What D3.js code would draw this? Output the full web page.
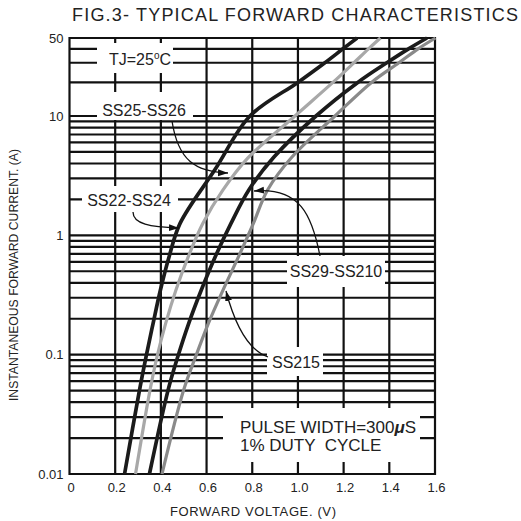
<!DOCTYPE html>
<html>
<head>
<meta charset="utf-8">
<script src="https://cdn.jsdelivr.net/npm/d3@7"></script>
<style>
  body { margin: 0; background: #fff; }
  svg text { font-family: "Liberation Sans", Arial, sans-serif; fill: #222; }
</style>
</head>
<body>
<div class="chart"></div>
<script>
var svgWidth = 521;
var svgHeight = 521;

// forward voltage (V) and current (A)
var ss22V = [0.241, 0.306, 0.335, 0.366, 0.398, 0.436, 0.484, 0.637, 0.790, 1.000, 1.118, 1.197, 1.259];
var ss22I = [0.01, 0.05, 0.096, 0.183, 0.348, 0.662, 1.26, 3.56, 10, 20, 30, 40, 50];

var ss25V = [0.289, 0.352, 0.383, 0.421, 0.466, 0.520, 0.584, 0.672, 0.781, 0.987, 1.153, 1.245, 1.309, 1.361];
var ss25I = [0.01, 0.05, 0.096, 0.183, 0.348, 0.662, 1.26, 2.40, 4.45, 10, 20, 30, 40, 50];

var ss29V = [0.350, 0.431, 0.474, 0.522, 0.577, 0.638, 0.707, 0.785, 0.895, 1.079, 1.262, 1.389, 1.484, 1.565];
var ss29I = [0.01, 0.05, 0.096, 0.183, 0.348, 0.662, 1.26, 2.40, 4.53, 10, 20, 30, 40, 50];

var ss215V = [0.405, 0.499, 0.552, 0.608, 0.672, 0.740, 0.805, 0.867, 0.974, 1.162, 1.322, 1.442, 1.526, 1.602];
var ss215I = [0.01, 0.05, 0.096, 0.183, 0.348, 0.662, 1.26, 2.40, 4.53, 10, 20, 30, 40, 50];

var xTickValues = [0, 0.2, 0.4, 0.6, 0.8, 1.0, 1.2, 1.4, 1.6];
var xTickLabels = ["0", "0.2", "0.4", "0.6", "0.8", "1.0", "1.2", "1.4", "1.6"];
var yTickValues = [0.01, 0.1, 1, 10, 50];
var yTickLabels = ["0.01", "0.1", "1", "10", "50"];

var series = [
  { v: ss22V, i: ss22I, color: "#1b1b1b", width: 3.7 },
  { v: ss25V, i: ss25I, color: "#a8a8a8", width: 3.2 },
  { v: ss29V, i: ss29I, color: "#1b1b1b", width: 3.7 },
  { v: ss215V, i: ss215I, color: "#8a8a8a", width: 3.2 }
];

var svg = d3.select(".chart")
  .append("svg")
  .attr("width", svgWidth)
  .attr("height", svgHeight);

// scales (the scan's top decade 10..50 is a bit squashed, hence 3 stops)
var x = d3.scaleLinear().domain([0, 1.6]).range([69.5, 435]);
var y = d3.scaleLog().domain([0.01, 10, 50]).range([474, 116, 38]);

// grid
var grid = svg.append("g").attr("stroke", "#111").attr("stroke-width", 2.2);
grid.selectAll("line.h")
  .data(y.ticks())
  .enter().append("line")
  .attr("class", "h")
  .attr("x1", x(0)).attr("x2", x(1.6))
  .attr("y1", d => y(d)).attr("y2", d => y(d));
grid.selectAll("line.v")
  .data(xTickValues)
  .enter().append("line")
  .attr("class", "v")
  .attr("x1", d => x(d)).attr("x2", d => x(d))
  .attr("y1", y(50) - 1.1).attr("y2", y(0.01) + 1.1);

// curves
var line = d3.line()
  .x(d => x(d[0]))
  .y(d => y(d[1]))
  .curve(d3.curveCatmullRom.alpha(0.5));

svg.append("g").selectAll("path")
  .data(series)
  .enter().append("path")
  .attr("d", s => line(s.v.map((v, k) => [v, s.i[k]])))
  .attr("fill", "none")
  .attr("stroke", s => s.color)
  .attr("stroke-width", s => s.width);

// white boxes behind the labels break the grid
var boxes = [
  [97, 43, 76, 30],
  [97, 92, 96, 28],
  [82, 186, 96, 26],
  [287, 256, 98, 31],
  [267, 347, 56, 29],
  [223, 408, 197, 54]
];
svg.append("g").selectAll("rect")
  .data(boxes)
  .enter().append("rect")
  .attr("x", d => d[0]).attr("y", d => d[1])
  .attr("width", d => d[2]).attr("height", d => d[3])
  .attr("fill", "#fff");

// axis labels
svg.append("g").selectAll("text")
  .data(xTickValues)
  .enter().append("text")
  .attr("x", d => x(d) + 1.5)
  .attr("y", 491.5)
  .attr("text-anchor", "middle")
  .attr("font-size", 13)
  .text((d, k) => xTickLabels[k]);

svg.append("g").selectAll("text")
  .data(yTickValues)
  .enter().append("text")
  .attr("x", 63.5)
  .attr("y", d => y(d))
  .attr("dy", "0.36em")
  .attr("text-anchor", "end")
  .attr("font-size", 13)
  .text((d, k) => yTickLabels[k]);

svg.append("text")
  .attr("x", 72).attr("y", 20.5)
  .attr("font-size", 18)
  .attr("textLength", 446)
  .attr("lengthAdjust", "spacing")
  .text("FIG.3- TYPICAL FORWARD CHARACTERISTICS");

svg.append("text")
  .attr("transform", "translate(17.5, 275) rotate(-90)")
  .attr("text-anchor", "middle")
  .attr("font-size", 12.2)
  .text("INSTANTANEOUS FORWARD CURRENT. (A)");

svg.append("text")
  .attr("x", 253).attr("y", 516)
  .attr("text-anchor", "middle")
  .attr("font-size", 13)
  .attr("textLength", 166)
  .attr("lengthAdjust", "spacing")
  .text("FORWARD VOLTAGE. (V)");

// annotations
var tj = svg.append("text")
  .attr("x", 140).attr("y", 65)
  .attr("text-anchor", "middle")
  .attr("font-size", 16);
tj.append("tspan").text("TJ=25");
tj.append("tspan").attr("dy", -6).attr("font-size", 10).text("o");
tj.append("tspan").attr("dy", 6).text("C");

var labels = [
  ["SS25-SS26", 144, 116],
  ["SS22-SS24", 129, 205.5],
  ["SS29-SS210", 336, 277],
  ["SS215", 296, 368]
];
svg.append("g").selectAll("text")
  .data(labels)
  .enter().append("text")
  .attr("x", d => d[1]).attr("y", d => d[2])
  .attr("text-anchor", "middle")
  .attr("font-size", 16)
  .text(d => d[0]);

var p1 = svg.append("text").attr("x", 240).attr("y", 432.5).attr("font-size", 17);
p1.append("tspan").text("PULSE WIDTH=300");
p1.append("tspan").attr("font-style", "italic").attr("font-weight", "bold").text("\u03bc");
p1.append("tspan").text("S");
svg.append("text").attr("x", 240).attr("y", 451).attr("font-size", 17)
  .style("white-space", "pre")
  .text("1% DUTY  CYCLE");

// arrows
svg.append("defs").append("marker")
  .attr("id", "head")
  .attr("markerUnits", "userSpaceOnUse")
  .attr("markerWidth", 11).attr("markerHeight", 8)
  .attr("refX", 10).attr("refY", 3.5)
  .attr("orient", "auto")
  .append("path")
  .attr("d", "M0,0 L10,3.5 L0,7 Z")
  .attr("fill", "#111");

var arrows = [
  "M172,121 C178,160 195,172 228,173",
  "M133,212 C133,224 150,227 179,228",
  "M320,256 C312,215 300,187 254,191",
  "M268,357 C248,350 235,325 226,291"
];
svg.append("g").selectAll("path")
  .data(arrows)
  .enter().append("path")
  .attr("d", d => d)
  .attr("fill", "none")
  .attr("stroke", "#111")
  .attr("stroke-width", 1.3)
  .attr("marker-end", "url(#head)");
</script>
</body>
</html>
